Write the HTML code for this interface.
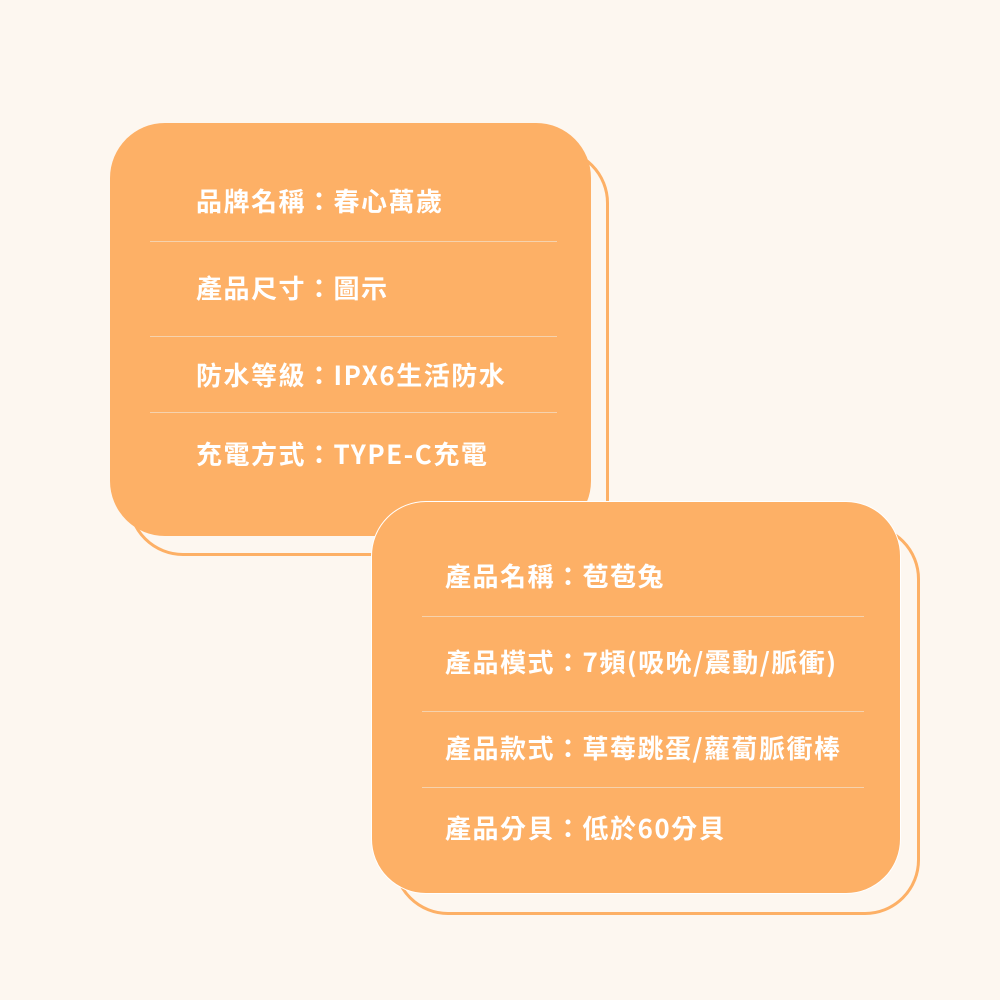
<!DOCTYPE html>
<html><head><meta charset="utf-8"><style>
body{margin:0;width:1000px;height:1000px;background:#fdf7f0;position:relative;overflow:hidden;font-family:"Noto Sans CJK TC","Liberation Sans",sans-serif;}
.sh{position:absolute;border:3px solid #fdb066;border-radius:55px;background:#fdf7f0;box-sizing:border-box}
.c{position:absolute;background:#fdb066;border-radius:55px;box-sizing:border-box}
.t{position:absolute;color:#fff;font-size:26px;font-weight:bold;white-space:nowrap;line-height:30px;letter-spacing:1.5px}
.l{position:absolute;height:1px;background:#f6d2ad}
</style></head><body>
<div class="sh" style="left:128px;top:148px;width:481px;height:408px"></div>
<div class="c" style="left:110px;top:123px;width:481px;height:413px"></div>
<div class="t" style="left:196px;top:186px">品牌名稱：春心萬歲</div>
<div class="l" style="left:150px;top:241px;width:407px"></div>
<div class="t" style="left:196px;top:273px">產品尺寸：圖示</div>
<div class="l" style="left:150px;top:336px;width:407px"></div>
<div class="t" style="left:196px;top:360px">防水等級：IPX6生活防水</div>
<div class="l" style="left:150px;top:412px;width:407px"></div>
<div class="t" style="left:196px;top:439px">充電方式：TYPE-C充電</div>

<div class="sh" style="left:393px;top:524px;width:527px;height:391px"></div>
<div class="c" style="left:371px;top:501px;width:530px;height:393px;border:1.5px solid #fff"></div>
<div class="t" style="left:445px;top:561px">產品名稱：苞苞兔</div>
<div class="l" style="left:422px;top:616px;width:442px"></div>
<div class="t" style="left:445px;top:647px">產品模式：7頻(吸吮/震動/脈衝)</div>
<div class="l" style="left:422px;top:711px;width:442px"></div>
<div class="t" style="left:445px;top:733px">產品款式：草莓跳蛋/蘿蔔脈衝棒</div>
<div class="l" style="left:422px;top:787px;width:442px"></div>
<div class="t" style="left:445px;top:813px">產品分貝：低於60分貝</div>
</body></html>
